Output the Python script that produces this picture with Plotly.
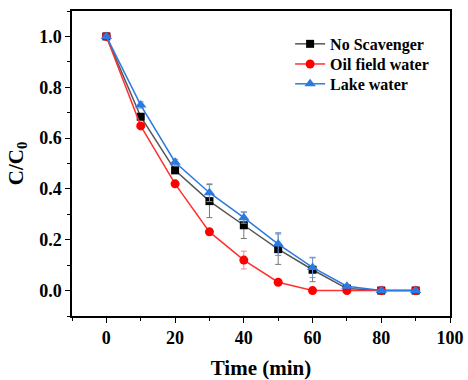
import plotly.graph_objects as go

time = [0, 10, 20, 30, 40, 50, 60, 70, 80, 90]
no_scav = [1.0, 0.684, 0.473, 0.352, 0.257, 0.163, 0.082, 0.008, 0.0, 0.0]
no_scav_err = [0.0, 0.01, 0.012, 0.065, 0.052, 0.06, 0.047, 0.005, 0.0, 0.0]
oil = [1.0, 0.648, 0.42, 0.231, 0.12, 0.033, 0.0, 0.0, 0.0, 0.0]
oil_err = [0.0, 0.008, 0.008, 0.012, 0.035, 0.005, 0.0, 0.0, 0.0, 0.0]
lake = [1.0, 0.73, 0.505, 0.385, 0.287, 0.183, 0.091, 0.017, 0.0, 0.0]
lake_err = [0.0, 0.012, 0.012, 0.035, 0.022, 0.045, 0.04, 0.006, 0.0, 0.0]

font = "Liberation Serif, Times New Roman, serif"

fig = go.Figure()

def add(name, y, err, line_color, marker_color, symbol, size, err_color, legend):
    fig.add_trace(go.Scatter(
        x=time, y=y, name=name, mode="lines+markers",
        line=dict(color=line_color, width=1.5),
        marker=dict(color=marker_color, symbol=symbol, size=size),
        error_y=dict(type="data", array=err, visible=True, color=err_color, thickness=1, width=3),
        legend=legend, showlegend=True,
    ))

add("No Scavenger", no_scav, no_scav_err, "#555555", "#000000", "square", 8, "#777777", "legend")
add("Oil field water", oil, oil_err, "#FF3030", "#FF0000", "circle", 9, "#FF8080", "legend2")
add("Lake water", lake, lake_err, "#2A7AE2", "#2A7AE2", "triangle-up", 10, "#6A9AE2", "legend3")

axis_common = dict(
    showline=True, linecolor="black", linewidth=1.5, mirror=True,
    ticks="outside", ticklen=5, tickwidth=1.2, tickcolor="black",
    showgrid=False, zeroline=False, automargin=False,
    tickfont=dict(family=font, size=18, color="black", weight="bold"),
    minor=dict(ticks="outside", ticklen=3, tickwidth=1, tickcolor="black"),
)

fig.update_xaxes(range=[-10, 100], tickvals=[0, 20, 40, 60, 80, 100],
                 minor_dtick=10,
                 title=dict(text="<b>Time (min)</b>", font=dict(family=font, size=21, color="black"), standoff=13),
                 **axis_common)
fig.update_yaxes(range=[-0.1, 1.1], tickvals=[0.0, 0.2, 0.4, 0.6, 0.8, 1.0],
                 tickformat=".1f", minor_dtick=0.1,
                 title=dict(text="<b>C/C<sub>0</sub></b>", font=dict(family=font, size=21, color="black"), standoff=10),
                 **axis_common)

leg_font = dict(family=font, size=16, color="black", weight="bold")
leg_common = dict(xanchor="left", yanchor="middle", font=leg_font,
                  bgcolor="rgba(0,0,0,0)", itemwidth=30, x=0.577, visible=True)

fig.update_layout(
    width=468, height=380,
    margin=dict(l=72, r=18, t=11, b=64, autoexpand=False),
    plot_bgcolor="white", paper_bgcolor="white",
    font=dict(family=font),
    showlegend=True,
    legend=dict(y=0.892, **leg_common),
    legend2=dict(y=0.826, **leg_common),
    legend3=dict(y=0.761, **leg_common),
)

fig.write_html("out.html")
